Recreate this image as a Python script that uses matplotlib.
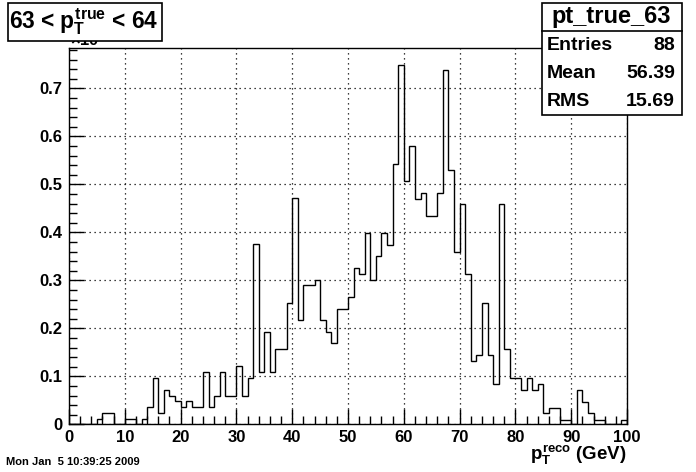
import numpy as np
import matplotlib
matplotlib.use("Agg")
import matplotlib.pyplot as plt
from matplotlib.patches import Rectangle
from matplotlib.ticker import MultipleLocator

plt.rcParams['font.family'] = ['Liberation Sans', 'DejaVu Sans']
plt.rcParams['font.weight'] = 'bold'
plt.rcParams['mathtext.fontset'] = 'custom'
plt.rcParams['mathtext.rm'] = 'Liberation Sans:bold'
plt.rcParams['mathtext.it'] = 'Liberation Sans:bold'
plt.rcParams['mathtext.bf'] = 'Liberation Sans:bold'

# bin contents, 100 bins of width 1 GeV from 0 to 100
bin_edges = np.arange(0, 101, 1)
counts = [
    0, 0, 0, 0, 0, 0.011, 0.023, 0.023, 0, 0,
    0.011, 0.011, 0, 0.011, 0.036, 0.096, 0.023, 0.071, 0.060, 0.048,
    0.036, 0.048, 0.036, 0.036, 0.108, 0.036, 0.060, 0.108, 0.060, 0.060,
    0.121, 0.060, 0.096, 0.375, 0.108, 0.192, 0.108, 0.156, 0.156, 0.252,
    0.471, 0.217, 0.290, 0.290, 0.301, 0.217, 0.192, 0.169, 0.240, 0.240,
    0.265, 0.325, 0.313, 0.399, 0.301, 0.350, 0.399, 0.374, 0.542, 0.749,
    0.506, 0.579, 0.469, 0.481, 0.434, 0.434, 0.481, 0.738, 0.529, 0.360,
    0.458, 0.313, 0.131, 0.144, 0.252, 0.144, 0.083, 0.458, 0.156, 0.096,
    0.096, 0.071, 0.096, 0.071, 0.083, 0.023, 0.035, 0.035, 0.010, 0.010,
    0, 0.071, 0.047, 0.023, 0.010, 0.010, 0, 0, 0, 0.010,
]

hist_name = "pt_true_63"
stat_labels = ["Entries", "Mean", "RMS"]
stat_values = ["88", "56.39", "15.69"]

W, H = 696, 472
fig = plt.figure(figsize=(W / 100, H / 100), dpi=100)
ax = fig.add_axes([69 / W, 1 - 424.3 / H, (627 - 69) / W, (424.3 - 47.7) / H])

ax.stairs(counts, bin_edges, color='black', linewidth=1.0)
ax.set_xlim(0, 100)
ax.set_ylim(0, 0.7846)

ax.xaxis.set_major_locator(MultipleLocator(10))
ax.xaxis.set_minor_locator(MultipleLocator(2))
ax.yaxis.set_major_locator(MultipleLocator(0.1))
ax.yaxis.set_minor_locator(MultipleLocator(0.02))
ax.yaxis.set_major_formatter(plt.FuncFormatter(lambda v, p: '0' if v == 0 else f'{v:.1f}'))
ax.tick_params(which='both', direction='in', top=False, right=False, labelsize=12, width=1)
ax.tick_params(which='major', length=11)
ax.tick_params(which='minor', length=6)
ax.tick_params(axis='x', pad=4)
ax.tick_params(axis='y', pad=5)
ax.grid(True, which='major', color='black', linestyle=(0, (1, 3)), linewidth=0.9)
for s in ax.spines.values():
    s.set_linewidth(1)

# x axis title
fig.text(627 / W, 1 - 460 / H, r'$p_T^{reco}$ (GeV)', ha='right', va='baseline', fontsize=13.5, fontweight='bold')

# y exponent partly hidden behind title box
fig.text(70 / W, 1 - 45 / H, r'$\times10^{-3}$', ha='left', va='baseline', fontsize=12, zorder=1)

# title box
fig.add_artist(Rectangle((7.5 / W, 1 - 41 / H), (162 - 7.5) / W, (41 - 2.5) / H,
                         transform=fig.transFigure, facecolor='white', edgecolor='black',
                         linewidth=1.2, zorder=5))
fig.text(84 / W, 1 - 22 / H, r'63 < $p_T^{true}$ < 64', ha='center', va='center',
         fontsize=16.3, fontweight='bold', zorder=6)

# stats box
fig.add_artist(Rectangle((542 / W, 1 - 115 / H), (682 - 542) / W, (115 - 2.5) / H,
                         transform=fig.transFigure, facecolor='white', edgecolor='black',
                         linewidth=1.2, zorder=5))
fig.add_artist(plt.Line2D([542 / W, 682 / W], [1 - 31 / H, 1 - 31 / H],
                          transform=fig.transFigure, color='black', linewidth=1.2, zorder=6))
fig.text(611 / W, 1 - 17 / H, hist_name, ha='center', va='center', fontsize=17, fontweight='bold', zorder=6)
for i, (lab, val) in enumerate(zip(stat_labels, stat_values)):
    yc = 1 - (46 + 27.5 * i) / H
    fig.text(547 / W, yc, lab, ha='left', va='center', fontsize=14, fontweight='bold', zorder=6)
    fig.text(675 / W, yc, val, ha='right', va='center', fontsize=14, fontweight='bold', zorder=6)

fig.text(6 / W, 1 - 462 / H, 'Mon Jan  5 10:39:25 2009', ha='left', va='center', fontsize=8, fontweight='bold')

fig.savefig('out.png', dpi=100)
